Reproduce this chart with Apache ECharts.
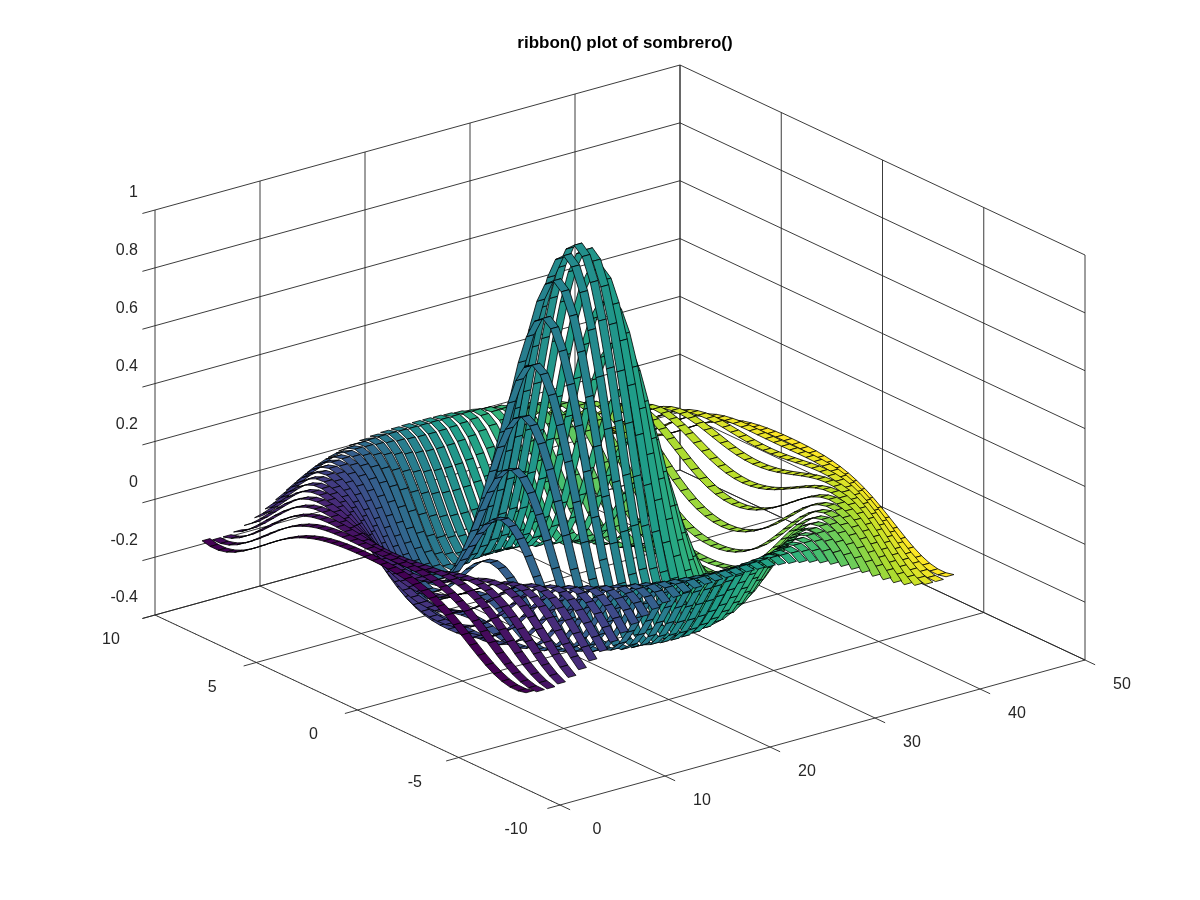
<!DOCTYPE html>
<html><head><meta charset="utf-8">
<script src="https://cdn.jsdelivr.net/npm/echarts@6/dist/echarts.min.js"></script>
<style>html,body{margin:0;background:#fff}#c{width:1200px;height:900px}</style>
</head><body><div id="c"></div>
<script>
// ---- data ----
const title = 'ribbon() plot of sombrero()';
const xTicks = [0, 10, 20, 30, 40, 50];
const yTicks = [-10, -5, 0, 5, 10];
const zTicks = [-0.4, -0.2, 0, 0.2, 0.4, 0.6, 0.8, 1];
const zTickLabels = ['-0.4', '-0.2', '0', '0.2', '0.4', '0.6', '0.8', '1'];
const nGrid = 41;              // sombrero() default size
const gridMin = -8, gridMax = 8;
const ribbonWidth = 0.75;
// sombrero(): z = sin(r)/r on a 41x41 grid over [-8,8]
const gridVals = Array.from({length: nGrid}, (_, k) => gridMin + (gridMax - gridMin) * k / (nGrid - 1));
function sombrero(a, b) { const r = Math.sqrt(a * a + b * b) + 2.2e-16; return Math.sin(r) / r; }
const zMatrix = gridVals.map(yv => gridVals.map(xv => sombrero(xv, yv))); // zMatrix[row j][ribbon i]

// ---- projection (orthographic box) ----
const O = [560, 805], EX = [525, -145], EY = [-405, -190], EZ = [0, -405];
const xr = [0, 50], yr = [-10, 10], zr = [-0.4, 1];
function P(x, y, z) {
  const u = (x - xr[0]) / (xr[1] - xr[0]), v = (y - yr[0]) / (yr[1] - yr[0]), w = (z - zr[0]) / (zr[1] - zr[0]);
  return [O[0] + u * EX[0] + v * EY[0] + w * EZ[0], O[1] + u * EX[1] + v * EY[1] + w * EZ[1]];
}
const viridis = ['#440154', '#482878', '#3e4989', '#31688e', '#26828e', '#1f9e89', '#35b779', '#6ece58', '#b5de2b', '#fde725'];
function cmap(t) {
  const s = t * (viridis.length - 1), k = Math.min(viridis.length - 2, Math.floor(s)), f = s - k;
  const a = viridis[k], b = viridis[k + 1];
  const c = i => Math.round(parseInt(a.substr(i, 2), 16) * (1 - f) + parseInt(b.substr(i, 2), 16) * f);
  return 'rgb(' + c(1) + ',' + c(3) + ',' + c(5) + ')';
}

// quads
const quads = [];
for (let i = 0; i < nGrid; i++) for (let j = 0; j < nGrid - 1; j++) {
  const xc = i + 1, ya = gridVals[j], yb = gridVals[j + 1];
  const depth = P(xc, (ya + yb) / 2, zr[0])[1];
  quads.push([i, j, depth]);
}
quads.sort((a, b) => a[2] - b[2]);

// grid lines
const lines = [];
const zl = zr[0], zh = zr[1];
xTicks.forEach(x => { lines.push([[x, yr[0], zl], [x, yr[1], zl], 0]); lines.push([[x, yr[1], zl], [x, yr[1], zh], 0]); });
yTicks.forEach(y => { lines.push([[xr[0], y, zl], [xr[1], y, zl], 0]); lines.push([[xr[1], y, zl], [xr[1], y, zh], 0]); });
zTicks.forEach(z => { lines.push([[xr[0], yr[1], z], [xr[1], yr[1], z], 0]); lines.push([[xr[1], yr[1], z], [xr[1], yr[0], z], 0]); });
lines.push([[xr[0], yr[0], zl], [xr[0], yr[1], zl], 1]); // dotted front edge
// ticks
xTicks.forEach(x => lines.push([[x, yr[0], zl], [x, yr[0] - 0.5, zl], 0]));
yTicks.forEach(y => lines.push([[xr[0], y, zl], [xr[0] - 1.2, y, zl], 0]));
zTicks.forEach(z => lines.push([[xr[0], yr[1], z], [xr[0] - 1.2, yr[1], z], 0]));

const labels = [];
xTicks.forEach(x => { const p = P(x, yr[0], zl); labels.push([p[0] + 37, p[1] + 25, String(x)]); });
yTicks.forEach(y => { const p = P(xr[0], y, zl); labels.push([p[0] - 44, p[1] + 25, String(y)]); });
zTicks.forEach((z, k) => { const p = P(xr[0], yr[1], z); labels.push([p[0] - 17, p[1] - 17, zTickLabels[k], 'right']); });

const chart = echarts.init(document.getElementById('c'));
chart.setOption({
  animation: false,
  title: { text: title, left: 620, top: 30, textAlign: 'center', textStyle: { fontFamily: 'Liberation Sans', fontWeight: 'bold', fontSize: 17, color: '#000' } },
  grid: { left: 0, right: 0, top: 0, bottom: 0 },
  xAxis: { type: 'value', min: 0, max: 1200, show: false },
  yAxis: { type: 'value', min: 0, max: 900, inverse: true, show: false },
  series: [
    { type: 'custom', data: lines, renderItem: (params, api) => {
        const l = lines[params.dataIndex];
        const a = P(...l[0]), b = P(...l[1]);
        const pa = api.coord(a), pb = api.coord(b);
        return { type: 'line', shape: { x1: pa[0], y1: pa[1], x2: pb[0], y2: pb[1] },
          style: { stroke: '#262626', lineWidth: l[2] ? 0.6 : 0.9, lineDash: l[2] ? [1, 2] : null } };
      } },
    { type: 'custom', data: quads, renderItem: (params, api) => {
        const q = quads[params.dataIndex], i = q[0], j = q[1];
        const x0 = i + 1 - ribbonWidth / 2, x1 = i + 1 + ribbonWidth / 2;
        const ya = gridVals[j], yb = gridVals[j + 1], za = zMatrix[j][i], zb = zMatrix[j + 1][i];
        const pts = [P(x0, ya, za), P(x1, ya, za), P(x1, yb, zb), P(x0, yb, zb)].map(p => api.coord(p));
        return { type: 'polygon', shape: { points: pts },
          style: { fill: cmap(i / (nGrid - 1)), stroke: '#000', lineWidth: 0.8 } };
      } },
    { type: 'custom', data: labels, renderItem: (params, api) => {
        const l = labels[params.dataIndex], p = api.coord([l[0], l[1]]);
        return { type: 'text', x: p[0], y: p[1], style: { text: l[2], fill: '#262626', fontSize: 16, fontFamily: 'Liberation Sans', align: l[3] || 'center', verticalAlign: 'middle' } };
      } }
  ]
});
</script></body></html>
